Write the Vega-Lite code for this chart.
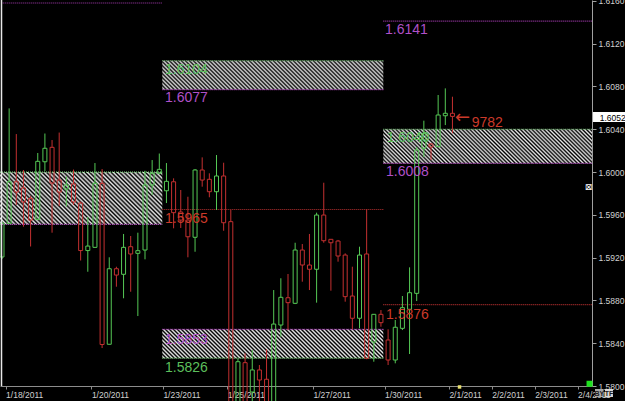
{
"$schema":"https://vega.github.io/schema/vega-lite/v6.json",
"width":592,"height":386,
"autosize":{"type":"none"},
"padding":{"left":0,"top":0,"right":33,"bottom":15},
"background":"#000000",
"config":{"view":{"stroke":null},"axis":{"grid":false},"scale":{"continuousPadding":0}},
"datasets":{
"zones":[
{"z":"A","k1":-0.2797,"k2":22.42,"p1":1.5951,"p2":1.6000},
{"z":"B","k1":22.42,"k2":53.33,"p1":1.6077,"p2":1.6104},
{"z":"C","k1":22.42,"k2":53.33,"p1":1.5826,"p2":1.5853},
{"z":"D","k1":53.33,"k2":82.517,"p1":1.6008,"p2":1.6040}
],
"levels":[
{"p":1.6158,"k1":0.1,"k2":22.42,"t":"m"},
{"p":1.6000,"k1":-0.2797,"k2":22.42,"t":"g"},
{"p":1.5951,"k1":-0.2797,"k2":22.42,"t":"m"},
{"p":1.6104,"k1":22.42,"k2":53.33,"t":"g"},
{"p":1.6077,"k1":22.42,"k2":53.33,"t":"m"},
{"p":1.5965,"k1":22.42,"k2":53.33,"t":"r"},
{"p":1.5853,"k1":22.42,"k2":53.33,"t":"m"},
{"p":1.5826,"k1":22.42,"k2":53.33,"t":"g"},
{"p":1.6141,"k1":53.33,"k2":82.517,"t":"m"},
{"p":1.6040,"k1":53.33,"k2":82.517,"t":"g"},
{"p":1.6008,"k1":53.33,"k2":82.517,"t":"m"},
{"p":1.5876,"k1":53.33,"k2":82.517,"t":"r"}
],
"candles":[
{"k":0,"d":"up","hi":1.59542,"top":1.59521,"bot":1.59206,"lo":1.59187},
{"k":1,"d":"up","hi":1.60595,"top":1.59909,"bot":1.59519,"lo":1.59514},
{"k":2,"d":"down","hi":1.60355,"top":1.59909,"bot":1.59813,"lo":1.59692},
{"k":3,"d":"down","hi":1.60019,"top":1.59851,"bot":1.59720,"lo":1.59489},
{"k":4,"d":"down","hi":1.59776,"top":1.59752,"bot":1.59551,"lo":1.59304},
{"k":5,"d":"up","hi":1.60178,"top":1.60100,"bot":1.59558,"lo":1.59551},
{"k":6,"d":"up","hi":1.60360,"top":1.60222,"bot":1.60096,"lo":1.60009},
{"k":7,"d":"down","hi":1.60299,"top":1.60231,"bot":1.59897,"lo":1.59433},
{"k":8,"d":"down","hi":1.60369,"top":1.59925,"bot":1.59813,"lo":1.59682},
{"k":9,"d":"up","hi":1.59958,"top":1.59879,"bot":1.59841,"lo":1.59678},
{"k":10,"d":"down","hi":1.60023,"top":1.59888,"bot":1.59720,"lo":1.59692},
{"k":11,"d":"down","hi":1.59724,"top":1.59710,"bot":1.59266,"lo":1.59173},
{"k":12,"d":"up","hi":1.59579,"top":1.59308,"bot":1.59266,"lo":1.59068},
{"k":13,"d":"up","hi":1.60084,"top":1.59894,"bot":1.59296,"lo":1.59290},
{"k":14,"d":"down","hi":1.60028,"top":1.59894,"bot":1.58388,"lo":1.58355},
{"k":15,"d":"up","hi":1.59203,"top":1.59096,"bot":1.58390,"lo":1.58388},
{"k":16,"d":"down","hi":1.59115,"top":1.59096,"bot":1.59037,"lo":1.58928},
{"k":17,"d":"up","hi":1.59421,"top":1.59296,"bot":1.59044,"lo":1.58820},
{"k":18,"d":"down","hi":1.59402,"top":1.59302,"bot":1.59234,"lo":1.58881},
{"k":19,"d":"up","hi":1.59433,"top":1.59265,"bot":1.59240,"lo":1.58654},
{"k":20,"d":"up","hi":1.60012,"top":1.59879,"bot":1.59271,"lo":1.59184},
{"k":21,"d":"up","hi":1.60112,"top":1.59988,"bot":1.59879,"lo":1.59785},
{"k":22,"d":"up","hi":1.60173,"top":1.60025,"bot":1.59988,"lo":1.59981},
{"k":23,"d":"up","hi":1.60084,"top":1.59913,"bot":1.59825,"lo":1.59710},
{"k":24,"d":"down","hi":1.59941,"top":1.59909,"bot":1.59620,"lo":1.59474},
{"k":25,"d":"down","hi":1.59832,"top":1.59626,"bot":1.59551,"lo":1.59477},
{"k":26,"d":"down","hi":1.59769,"top":1.59551,"bot":1.59395,"lo":1.59203},
{"k":27,"d":"up","hi":1.60028,"top":1.60019,"bot":1.59390,"lo":1.59255},
{"k":28,"d":"down","hi":1.60137,"top":1.60019,"bot":1.59925,"lo":1.59863},
{"k":29,"d":"down","hi":1.59988,"top":1.59932,"bot":1.59816,"lo":1.59764},
{"k":30,"d":"up","hi":1.60159,"top":1.59963,"bot":1.59816,"lo":1.59645},
{"k":31,"d":"down","hi":1.60087,"top":1.59963,"bot":1.59526,"lo":1.59451},
{"k":32,"d":"down","hi":1.59645,"top":1.59536,"bot":1.57822,"lo":1.57776},
{"k":33,"d":"up","hi":1.58257,"top":1.58227,"bot":1.57794,"lo":1.57757},
{"k":34,"d":"down","hi":1.58306,"top":1.58218,"bot":1.57832,"lo":1.57776},
{"k":35,"d":"up","hi":1.58336,"top":1.58150,"bot":1.57944,"lo":1.57850},
{"k":36,"d":"down","hi":1.58196,"top":1.58150,"bot":1.58056,"lo":1.57794},
{"k":37,"d":"down","hi":1.58343,"top":1.58063,"bot":1.57850,"lo":1.57776},
{"k":38,"d":"up","hi":1.58897,"top":1.58579,"bot":1.57850,"lo":1.57794},
{"k":39,"d":"up","hi":1.59007,"top":1.58829,"bot":1.58570,"lo":1.58461},
{"k":40,"d":"down","hi":1.59047,"top":1.58825,"bot":1.58779,"lo":1.58523},
{"k":41,"d":"up","hi":1.59339,"top":1.59271,"bot":1.58773,"lo":1.58766},
{"k":42,"d":"down","hi":1.59327,"top":1.59271,"bot":1.59131,"lo":1.58975},
{"k":43,"d":"down","hi":1.59421,"top":1.59131,"bot":1.59091,"lo":1.58897},
{"k":44,"d":"up","hi":1.59620,"top":1.59598,"bot":1.59091,"lo":1.58779},
{"k":45,"d":"down","hi":1.59900,"top":1.59598,"bot":1.59358,"lo":1.59339},
{"k":46,"d":"down","hi":1.59374,"top":1.59371,"bot":1.59339,"lo":1.58891},
{"k":47,"d":"down","hi":1.59365,"top":1.59355,"bot":1.59215,"lo":1.59162},
{"k":48,"d":"down","hi":1.59240,"top":1.59224,"bot":1.58835,"lo":1.58788},
{"k":49,"d":"down","hi":1.59115,"top":1.58841,"bot":1.58633,"lo":1.58530},
{"k":50,"d":"up","hi":1.59302,"top":1.59224,"bot":1.58633,"lo":1.58539},
{"k":51,"d":"down","hi":1.59651,"top":1.59234,"bot":1.58259,"lo":1.58250},
{"k":52,"d":"up","hi":1.58673,"top":1.58670,"bot":1.58411,"lo":1.58227},
{"k":53,"d":"down","hi":1.58710,"top":1.58670,"bot":1.58592,"lo":1.58554},
{"k":54,"d":"down","hi":1.58530,"top":1.58430,"bot":1.58243,"lo":1.58196},
{"k":55,"d":"up","hi":1.58617,"top":1.58549,"bot":1.58243,"lo":1.58212},
{"k":56,"d":"up","hi":1.58841,"top":1.58732,"bot":1.58539,"lo":1.58523},
{"k":57,"d":"up","hi":1.59109,"top":1.58872,"bot":1.58717,"lo":1.58299},
{"k":58,"d":"up","hi":1.60234,"top":1.60206,"bot":1.58866,"lo":1.58794},
{"k":59,"d":"up","hi":1.60480,"top":1.60362,"bot":1.60222,"lo":1.60140},
{"k":60,"d":"down","hi":1.60268,"top":1.60262,"bot":1.60234,"lo":1.60112},
{"k":61,"d":"up","hi":1.60720,"top":1.60533,"bot":1.60237,"lo":1.60234},
{"k":62,"d":"up","hi":1.60782,"top":1.60549,"bot":1.60526,"lo":1.60439},
{"k":63,"d":"down","hi":1.60704,"top":1.60549,"bot":1.60520,"lo":1.60362}
],
"labels":[
{"k":22.8,"p":1.60916,"t":"1.6104","c":"g"},
{"k":22.8,"p":1.60654,"t":"1.6077","c":"m"},
{"k":22.8,"p":1.58397,"t":"1.5853","c":"m"},
{"k":22.8,"p":1.58131,"t":"1.5826","c":"g"},
{"k":22.8,"p":1.59528,"t":"1.5965","c":"r"},
{"k":53.57,"p":1.61294,"t":"1.6141","c":"m"},
{"k":53.8,"p":1.60280,"t":"1.6040","c":"g"},
{"k":53.71,"p":1.59963,"t":"1.6008","c":"m"},
{"k":53.71,"p":1.58626,"t":"1.5876","c":"r"},
{"k":65.69,"p":1.60421,"t":"9782","c":"r"}
]
},
"layer":[
{"data":{"name":"zones"},"transform":[{"filter":"datum.z=='A'"}],
"mark":{"type":"rect","clip":true,"fill":{"gradient":"linear","x1":0,"y1":1,"x2":1.198,"y2":0.6132,"stops":[
{"offset":0,"color":"#000"},{"offset":0.01,"color":"#e8e8e8"},{"offset":0.02,"color":"#000"},{"offset":0.03,"color":"#e8e8e8"},{"offset":0.04,"color":"#000"},{"offset":0.05,"color":"#e8e8e8"},{"offset":0.06,"color":"#000"},{"offset":0.07,"color":"#e8e8e8"},{"offset":0.08,"color":"#000"},{"offset":0.09,"color":"#e8e8e8"},
{"offset":0.1,"color":"#000"},{"offset":0.11,"color":"#e8e8e8"},{"offset":0.12,"color":"#000"},{"offset":0.13,"color":"#e8e8e8"},{"offset":0.14,"color":"#000"},{"offset":0.15,"color":"#e8e8e8"},{"offset":0.16,"color":"#000"},{"offset":0.17,"color":"#e8e8e8"},{"offset":0.18,"color":"#000"},{"offset":0.19,"color":"#e8e8e8"},
{"offset":0.2,"color":"#000"},{"offset":0.21,"color":"#e8e8e8"},{"offset":0.22,"color":"#000"},{"offset":0.23,"color":"#e8e8e8"},{"offset":0.24,"color":"#000"},{"offset":0.25,"color":"#e8e8e8"},{"offset":0.26,"color":"#000"},{"offset":0.27,"color":"#e8e8e8"},{"offset":0.28,"color":"#000"},{"offset":0.29,"color":"#e8e8e8"},
{"offset":0.3,"color":"#000"},{"offset":0.31,"color":"#e8e8e8"},{"offset":0.32,"color":"#000"},{"offset":0.33,"color":"#e8e8e8"},{"offset":0.34,"color":"#000"},{"offset":0.35,"color":"#e8e8e8"},{"offset":0.36,"color":"#000"},{"offset":0.37,"color":"#e8e8e8"},{"offset":0.38,"color":"#000"},{"offset":0.39,"color":"#e8e8e8"},
{"offset":0.4,"color":"#000"},{"offset":0.41,"color":"#e8e8e8"},{"offset":0.42,"color":"#000"},{"offset":0.43,"color":"#e8e8e8"},{"offset":0.44,"color":"#000"},{"offset":0.45,"color":"#e8e8e8"},{"offset":0.46,"color":"#000"},{"offset":0.47,"color":"#e8e8e8"},{"offset":0.48,"color":"#000"},{"offset":0.49,"color":"#e8e8e8"},
{"offset":0.5,"color":"#000"},{"offset":0.51,"color":"#e8e8e8"},{"offset":0.52,"color":"#000"},{"offset":0.53,"color":"#e8e8e8"},{"offset":0.54,"color":"#000"},{"offset":0.55,"color":"#e8e8e8"},{"offset":0.56,"color":"#000"},{"offset":0.57,"color":"#e8e8e8"},{"offset":0.58,"color":"#000"},{"offset":0.59,"color":"#e8e8e8"},
{"offset":0.6,"color":"#000"},{"offset":0.61,"color":"#e8e8e8"},{"offset":0.62,"color":"#000"},{"offset":0.63,"color":"#e8e8e8"},{"offset":0.64,"color":"#000"},{"offset":0.65,"color":"#e8e8e8"},{"offset":0.66,"color":"#000"},{"offset":0.67,"color":"#e8e8e8"},{"offset":0.68,"color":"#000"},{"offset":0.69,"color":"#e8e8e8"},
{"offset":0.7,"color":"#000"},{"offset":0.71,"color":"#e8e8e8"},{"offset":0.72,"color":"#000"},{"offset":0.73,"color":"#e8e8e8"},{"offset":0.74,"color":"#000"},{"offset":0.75,"color":"#e8e8e8"},{"offset":0.76,"color":"#000"},{"offset":0.77,"color":"#e8e8e8"},{"offset":0.78,"color":"#000"},{"offset":0.79,"color":"#e8e8e8"},
{"offset":0.8,"color":"#000"},{"offset":0.81,"color":"#e8e8e8"},{"offset":0.82,"color":"#000"},{"offset":0.83,"color":"#e8e8e8"},{"offset":0.84,"color":"#000"},{"offset":0.85,"color":"#e8e8e8"},{"offset":0.86,"color":"#000"},{"offset":0.87,"color":"#e8e8e8"},{"offset":0.88,"color":"#000"},{"offset":0.89,"color":"#e8e8e8"},
{"offset":0.9,"color":"#000"},{"offset":0.91,"color":"#e8e8e8"},{"offset":0.92,"color":"#000"},{"offset":0.93,"color":"#e8e8e8"},{"offset":0.94,"color":"#000"},{"offset":0.95,"color":"#e8e8e8"},{"offset":0.96,"color":"#000"},{"offset":0.97,"color":"#e8e8e8"},{"offset":0.98,"color":"#000"},{"offset":0.99,"color":"#e8e8e8"},{"offset":1,"color":"#000"}]}},
"encoding":{"x":{"field":"k1","type":"quantitative","scale":{"domain":[-0.2797,82.517],"nice":false,"zero":false,"padding":0},"axis":{"title":null}},"x2":{"field":"k2"},"y":{"field":"p1","type":"quantitative","scale":{"domain":[1.58,1.61608],"nice":false,"zero":false,"padding":0},"axis":{"title":null}},"y2":{"field":"p2"}}},
{"data":{"name":"zones"},"transform":[{"filter":"datum.z=='B'||datum.z=='C'"}],
"mark":{"type":"rect","clip":true,"fill":{"gradient":"linear","x1":0,"y1":1,"x2":1.1118,"y2":0.8546,"stops":[
{"offset":0,"color":"#000"},{"offset":0.008,"color":"#e8e8e8"},{"offset":0.016,"color":"#000"},{"offset":0.024,"color":"#e8e8e8"},{"offset":0.032,"color":"#000"},{"offset":0.04,"color":"#e8e8e8"},{"offset":0.048,"color":"#000"},{"offset":0.056,"color":"#e8e8e8"},{"offset":0.064,"color":"#000"},{"offset":0.072,"color":"#e8e8e8"},
{"offset":0.08,"color":"#000"},{"offset":0.088,"color":"#e8e8e8"},{"offset":0.096,"color":"#000"},{"offset":0.104,"color":"#e8e8e8"},{"offset":0.112,"color":"#000"},{"offset":0.12,"color":"#e8e8e8"},{"offset":0.128,"color":"#000"},{"offset":0.136,"color":"#e8e8e8"},{"offset":0.144,"color":"#000"},{"offset":0.152,"color":"#e8e8e8"},
{"offset":0.16,"color":"#000"},{"offset":0.168,"color":"#e8e8e8"},{"offset":0.176,"color":"#000"},{"offset":0.184,"color":"#e8e8e8"},{"offset":0.192,"color":"#000"},{"offset":0.2,"color":"#e8e8e8"},{"offset":0.208,"color":"#000"},{"offset":0.216,"color":"#e8e8e8"},{"offset":0.224,"color":"#000"},{"offset":0.232,"color":"#e8e8e8"},
{"offset":0.24,"color":"#000"},{"offset":0.248,"color":"#e8e8e8"},{"offset":0.256,"color":"#000"},{"offset":0.264,"color":"#e8e8e8"},{"offset":0.272,"color":"#000"},{"offset":0.28,"color":"#e8e8e8"},{"offset":0.288,"color":"#000"},{"offset":0.296,"color":"#e8e8e8"},{"offset":0.304,"color":"#000"},{"offset":0.312,"color":"#e8e8e8"},
{"offset":0.32,"color":"#000"},{"offset":0.328,"color":"#e8e8e8"},{"offset":0.336,"color":"#000"},{"offset":0.344,"color":"#e8e8e8"},{"offset":0.352,"color":"#000"},{"offset":0.36,"color":"#e8e8e8"},{"offset":0.368,"color":"#000"},{"offset":0.376,"color":"#e8e8e8"},{"offset":0.384,"color":"#000"},{"offset":0.392,"color":"#e8e8e8"},
{"offset":0.4,"color":"#000"},{"offset":0.408,"color":"#e8e8e8"},{"offset":0.416,"color":"#000"},{"offset":0.424,"color":"#e8e8e8"},{"offset":0.432,"color":"#000"},{"offset":0.44,"color":"#e8e8e8"},{"offset":0.448,"color":"#000"},{"offset":0.456,"color":"#e8e8e8"},{"offset":0.464,"color":"#000"},{"offset":0.472,"color":"#e8e8e8"},
{"offset":0.48,"color":"#000"},{"offset":0.488,"color":"#e8e8e8"},{"offset":0.496,"color":"#000"},{"offset":0.504,"color":"#e8e8e8"},{"offset":0.512,"color":"#000"},{"offset":0.52,"color":"#e8e8e8"},{"offset":0.528,"color":"#000"},{"offset":0.536,"color":"#e8e8e8"},{"offset":0.544,"color":"#000"},{"offset":0.552,"color":"#e8e8e8"},
{"offset":0.56,"color":"#000"},{"offset":0.568,"color":"#e8e8e8"},{"offset":0.576,"color":"#000"},{"offset":0.584,"color":"#e8e8e8"},{"offset":0.592,"color":"#000"},{"offset":0.6,"color":"#e8e8e8"},{"offset":0.608,"color":"#000"},{"offset":0.616,"color":"#e8e8e8"},{"offset":0.624,"color":"#000"},{"offset":0.632,"color":"#e8e8e8"},
{"offset":0.64,"color":"#000"},{"offset":0.648,"color":"#e8e8e8"},{"offset":0.656,"color":"#000"},{"offset":0.664,"color":"#e8e8e8"},{"offset":0.672,"color":"#000"},{"offset":0.68,"color":"#e8e8e8"},{"offset":0.688,"color":"#000"},{"offset":0.696,"color":"#e8e8e8"},{"offset":0.704,"color":"#000"},{"offset":0.712,"color":"#e8e8e8"},
{"offset":0.72,"color":"#000"},{"offset":0.728,"color":"#e8e8e8"},{"offset":0.736,"color":"#000"},{"offset":0.744,"color":"#e8e8e8"},{"offset":0.752,"color":"#000"},{"offset":0.76,"color":"#e8e8e8"},{"offset":0.768,"color":"#000"},{"offset":0.776,"color":"#e8e8e8"},{"offset":0.784,"color":"#000"},{"offset":0.792,"color":"#e8e8e8"},
{"offset":0.8,"color":"#000"},{"offset":0.808,"color":"#e8e8e8"},{"offset":0.816,"color":"#000"},{"offset":0.824,"color":"#e8e8e8"},{"offset":0.832,"color":"#000"},{"offset":0.84,"color":"#e8e8e8"},{"offset":0.848,"color":"#000"},{"offset":0.856,"color":"#e8e8e8"},{"offset":0.864,"color":"#000"},{"offset":0.872,"color":"#e8e8e8"},
{"offset":0.88,"color":"#000"},{"offset":0.888,"color":"#e8e8e8"},{"offset":0.896,"color":"#000"},{"offset":0.904,"color":"#e8e8e8"},{"offset":0.912,"color":"#000"},{"offset":0.92,"color":"#e8e8e8"},{"offset":0.928,"color":"#000"},{"offset":0.936,"color":"#e8e8e8"},{"offset":0.944,"color":"#000"},{"offset":0.952,"color":"#e8e8e8"},
{"offset":0.96,"color":"#000"},{"offset":0.968,"color":"#e8e8e8"},{"offset":0.976,"color":"#000"},{"offset":0.984,"color":"#e8e8e8"},{"offset":0.992,"color":"#000"},{"offset":1,"color":"#e8e8e8"}]}},
"encoding":{"x":{"field":"k1","type":"quantitative","scale":{"domain":[-0.2797,82.517],"nice":false,"zero":false,"padding":0},"axis":{"title":null}},"x2":{"field":"k2"},"y":{"field":"p1","type":"quantitative","scale":{"domain":[1.58,1.61608],"nice":false,"zero":false,"padding":0},"axis":{"title":null}},"y2":{"field":"p2"}}},
{"data":{"name":"zones"},"transform":[{"filter":"datum.z=='D'"}],
"mark":{"type":"rect","clip":true,"fill":{"gradient":"linear","x1":0,"y1":1,"x2":1.1335,"y2":0.8142,"stops":[
{"offset":0,"color":"#000"},{"offset":0.008,"color":"#e8e8e8"},{"offset":0.016,"color":"#000"},{"offset":0.024,"color":"#e8e8e8"},{"offset":0.032,"color":"#000"},{"offset":0.04,"color":"#e8e8e8"},{"offset":0.048,"color":"#000"},{"offset":0.056,"color":"#e8e8e8"},{"offset":0.064,"color":"#000"},{"offset":0.072,"color":"#e8e8e8"},
{"offset":0.08,"color":"#000"},{"offset":0.088,"color":"#e8e8e8"},{"offset":0.096,"color":"#000"},{"offset":0.104,"color":"#e8e8e8"},{"offset":0.112,"color":"#000"},{"offset":0.12,"color":"#e8e8e8"},{"offset":0.128,"color":"#000"},{"offset":0.136,"color":"#e8e8e8"},{"offset":0.144,"color":"#000"},{"offset":0.152,"color":"#e8e8e8"},
{"offset":0.16,"color":"#000"},{"offset":0.168,"color":"#e8e8e8"},{"offset":0.176,"color":"#000"},{"offset":0.184,"color":"#e8e8e8"},{"offset":0.192,"color":"#000"},{"offset":0.2,"color":"#e8e8e8"},{"offset":0.208,"color":"#000"},{"offset":0.216,"color":"#e8e8e8"},{"offset":0.224,"color":"#000"},{"offset":0.232,"color":"#e8e8e8"},
{"offset":0.24,"color":"#000"},{"offset":0.248,"color":"#e8e8e8"},{"offset":0.256,"color":"#000"},{"offset":0.264,"color":"#e8e8e8"},{"offset":0.272,"color":"#000"},{"offset":0.28,"color":"#e8e8e8"},{"offset":0.288,"color":"#000"},{"offset":0.296,"color":"#e8e8e8"},{"offset":0.304,"color":"#000"},{"offset":0.312,"color":"#e8e8e8"},
{"offset":0.32,"color":"#000"},{"offset":0.328,"color":"#e8e8e8"},{"offset":0.336,"color":"#000"},{"offset":0.344,"color":"#e8e8e8"},{"offset":0.352,"color":"#000"},{"offset":0.36,"color":"#e8e8e8"},{"offset":0.368,"color":"#000"},{"offset":0.376,"color":"#e8e8e8"},{"offset":0.384,"color":"#000"},{"offset":0.392,"color":"#e8e8e8"},
{"offset":0.4,"color":"#000"},{"offset":0.408,"color":"#e8e8e8"},{"offset":0.416,"color":"#000"},{"offset":0.424,"color":"#e8e8e8"},{"offset":0.432,"color":"#000"},{"offset":0.44,"color":"#e8e8e8"},{"offset":0.448,"color":"#000"},{"offset":0.456,"color":"#e8e8e8"},{"offset":0.464,"color":"#000"},{"offset":0.472,"color":"#e8e8e8"},
{"offset":0.48,"color":"#000"},{"offset":0.488,"color":"#e8e8e8"},{"offset":0.496,"color":"#000"},{"offset":0.504,"color":"#e8e8e8"},{"offset":0.512,"color":"#000"},{"offset":0.52,"color":"#e8e8e8"},{"offset":0.528,"color":"#000"},{"offset":0.536,"color":"#e8e8e8"},{"offset":0.544,"color":"#000"},{"offset":0.552,"color":"#e8e8e8"},
{"offset":0.56,"color":"#000"},{"offset":0.568,"color":"#e8e8e8"},{"offset":0.576,"color":"#000"},{"offset":0.584,"color":"#e8e8e8"},{"offset":0.592,"color":"#000"},{"offset":0.6,"color":"#e8e8e8"},{"offset":0.608,"color":"#000"},{"offset":0.616,"color":"#e8e8e8"},{"offset":0.624,"color":"#000"},{"offset":0.632,"color":"#e8e8e8"},
{"offset":0.64,"color":"#000"},{"offset":0.648,"color":"#e8e8e8"},{"offset":0.656,"color":"#000"},{"offset":0.664,"color":"#e8e8e8"},{"offset":0.672,"color":"#000"},{"offset":0.68,"color":"#e8e8e8"},{"offset":0.688,"color":"#000"},{"offset":0.696,"color":"#e8e8e8"},{"offset":0.704,"color":"#000"},{"offset":0.712,"color":"#e8e8e8"},
{"offset":0.72,"color":"#000"},{"offset":0.728,"color":"#e8e8e8"},{"offset":0.736,"color":"#000"},{"offset":0.744,"color":"#e8e8e8"},{"offset":0.752,"color":"#000"},{"offset":0.76,"color":"#e8e8e8"},{"offset":0.768,"color":"#000"},{"offset":0.776,"color":"#e8e8e8"},{"offset":0.784,"color":"#000"},{"offset":0.792,"color":"#e8e8e8"},
{"offset":0.8,"color":"#000"},{"offset":0.808,"color":"#e8e8e8"},{"offset":0.816,"color":"#000"},{"offset":0.824,"color":"#e8e8e8"},{"offset":0.832,"color":"#000"},{"offset":0.84,"color":"#e8e8e8"},{"offset":0.848,"color":"#000"},{"offset":0.856,"color":"#e8e8e8"},{"offset":0.864,"color":"#000"},{"offset":0.872,"color":"#e8e8e8"},
{"offset":0.88,"color":"#000"},{"offset":0.888,"color":"#e8e8e8"},{"offset":0.896,"color":"#000"},{"offset":0.904,"color":"#e8e8e8"},{"offset":0.912,"color":"#000"},{"offset":0.92,"color":"#e8e8e8"},{"offset":0.928,"color":"#000"},{"offset":0.936,"color":"#e8e8e8"},{"offset":0.944,"color":"#000"},{"offset":0.952,"color":"#e8e8e8"},
{"offset":0.96,"color":"#000"},{"offset":0.968,"color":"#e8e8e8"},{"offset":0.976,"color":"#000"},{"offset":0.984,"color":"#e8e8e8"},{"offset":0.992,"color":"#000"},{"offset":1,"color":"#e8e8e8"}]}},
"encoding":{"x":{"field":"k1","type":"quantitative","scale":{"domain":[-0.2797,82.517],"nice":false,"zero":false,"padding":0},"axis":{"title":null}},"x2":{"field":"k2"},"y":{"field":"p1","type":"quantitative","scale":{"domain":[1.58,1.61608],"nice":false,"zero":false,"padding":0},"axis":{"title":null}},"y2":{"field":"p2"}}},
{"data":{"name":"levels"},
"mark":{"type":"rule","strokeDash":[1,1],"strokeWidth":1.2,"clip":true},
"encoding":{"x":{"field":"k1","type":"quantitative","scale":{"domain":[-0.2797,82.517],"nice":false,"zero":false,"padding":0},"axis":{"title":null}},"x2":{"field":"k2"},"y":{"field":"p","type":"quantitative","scale":{"domain":[1.58,1.61608],"nice":false,"zero":false,"padding":0},"axis":{"title":null}},
"stroke":{"field":"t","type":"nominal","scale":{"domain":["up","down","g","m","r"],"range":["#55c855","#c43030","#7ad07a","#a83cb4","#b83030"]},"legend":null}}},
{"data":{"name":"candles"},
"mark":{"type":"rule","strokeWidth":1},
"encoding":{"x":{"field":"k","type":"quantitative","scale":{"domain":[-0.2797,82.517],"nice":false,"zero":false,"padding":0},
"axis":{"title":null,"orient":"bottom","values":[0.5,12.5,22.5,31.5,43.5,53.5,62.5,68.5,74.5,80.5],
"labelExpr":"datum.value==0.5?'1/18/2011':datum.value==12.5?'1/20/2011':datum.value==22.5?'1/23/2011':datum.value==31.5?'1/25/2011':datum.value==43.5?'1/27/2011':datum.value==53.5?'1/30/2011':datum.value==62.5?'2/1/2011':datum.value==68.5?'2/2/2011':datum.value==74.5?'2/3/2011':'2/4/2011'",
"labelAlign":"left","labelBaseline":"top","labelPadding":1,"labelFont":"Liberation Sans Narrow, Liberation Sans","labelFontSize":8.5,"labelColor":"#d0d0d0","domainColor":"#8c8c8c","tickColor":"#8c8c8c","tickSize":3,"labelOverlap":false,"labelFlush":false,"labelBound":false,"grid":false}},
"y":{"field":"hi","type":"quantitative","scale":{"domain":[1.58,1.61608],"nice":false,"zero":false,"padding":0},
"axis":{"title":null,"orient":"right","values":[1.58,1.584,1.588,1.592,1.596,1.6,1.604,1.608,1.612,1.616],"format":".4f","labelFont":"Liberation Sans Narrow, Liberation Sans","labelFontSize":8.5,"labelColor":"#d0d0d0","domainColor":"#a0a0a0","tickColor":"#a0a0a0","tickSize":4,"labelPadding":2,"labelOverlap":false,"labelFlush":false,"labelBound":false,"grid":false}},
"y2":{"field":"top"},
"stroke":{"field":"d","type":"nominal","scale":{"domain":["up","down","g","m","r"],"range":["#55c855","#c43030","#7ad07a","#a83cb4","#b83030"]},"legend":null}}},
{"data":{"name":"candles"},
"mark":{"type":"rule","strokeWidth":1},
"encoding":{"x":{"field":"k","type":"quantitative","scale":{"domain":[-0.2797,82.517],"nice":false,"zero":false,"padding":0},"axis":{"title":null}},
"y":{"field":"bot","type":"quantitative","scale":{"domain":[1.58,1.61608],"nice":false,"zero":false,"padding":0},"axis":{"title":null}},"y2":{"field":"lo"},
"stroke":{"field":"d","type":"nominal","scale":{"domain":["up","down","g","m","r"],"range":["#55c855","#c43030","#7ad07a","#a83cb4","#b83030"]},"legend":null}}},
{"data":{"name":"candles"},
"mark":{"type":"bar","width":4,"fill":"transparent","strokeWidth":1},
"encoding":{"x":{"field":"k","type":"quantitative","scale":{"domain":[-0.2797,82.517],"nice":false,"zero":false,"padding":0},"axis":{"title":null}},
"y":{"field":"top","type":"quantitative","scale":{"domain":[1.58,1.61608],"nice":false,"zero":false,"padding":0},"axis":{"title":null}},"y2":{"field":"bot"},
"stroke":{"field":"d","type":"nominal","scale":{"domain":["up","down","g","m","r"],"range":["#55c855","#c43030","#7ad07a","#a83cb4","#b83030"]},"legend":null}}},
{"data":{"name":"labels"},
"mark":{"type":"text","align":"left","baseline":"alphabetic","font":"Liberation Sans","fontSize":14},
"encoding":{"x":{"field":"k","type":"quantitative","scale":{"domain":[-0.2797,82.517],"nice":false,"zero":false,"padding":0},"axis":{"title":null}},
"y":{"field":"p","type":"quantitative","scale":{"domain":[1.58,1.61608],"nice":false,"zero":false,"padding":0},"axis":{"title":null}},
"text":{"field":"t"},
"fill":{"field":"c","type":"nominal","scale":{"domain":["g","m","r"],"range":["#5cbf5c","#b050c8","#cc3a2a"]},"legend":null}}},
{"data":{"values":[{"k":63.36,"p":1.60458,"t":"←"}]},
"mark":{"type":"text","align":"left","baseline":"alphabetic","font":"DejaVu Sans","fontSize":18,"fill":"#cc3a2a"},
"encoding":{"x":{"field":"k","type":"quantitative","scale":{"domain":[-0.2797,82.517],"nice":false,"zero":false,"padding":0},"axis":{"title":null}},
"y":{"field":"p","type":"quantitative","scale":{"domain":[1.58,1.61608],"nice":false,"zero":false,"padding":0},"axis":{"title":null}},"text":{"field":"t"}}},
{"data":{"values":[{"k":-0.07,"p1":1.58,"p2":1.61608}]},
"mark":{"type":"rule","stroke":"#e8e8e8","strokeWidth":1.5},
"encoding":{"x":{"field":"k","type":"quantitative","scale":{"domain":[-0.2797,82.517],"nice":false,"zero":false,"padding":0},"axis":{"title":null}},
"y":{"field":"p1","type":"quantitative","scale":{"domain":[1.58,1.61608],"nice":false,"zero":false,"padding":0},"axis":{"title":null}},"y2":{"field":"p2"}}},
{"data":{"values":[{"k1":82.66,"k2":87.3,"p1":1.60467,"p2":1.60561}]},
"mark":{"type":"rect","fill":"#ffffff","clip":false},
"encoding":{"x":{"field":"k1","type":"quantitative","scale":{"domain":[-0.2797,82.517],"nice":false,"zero":false,"padding":0},"axis":{"title":null}},"x2":{"field":"k2"},
"y":{"field":"p1","type":"quantitative","scale":{"domain":[1.58,1.61608],"nice":false,"zero":false,"padding":0},"axis":{"title":null}},"y2":{"field":"p2"}}},
{"data":{"values":[{"k1":82.94,"k2":84.13,"p1":1.57897,"p2":1.57972}]},
"mark":{"type":"rect","fill":"#a8a8a8","clip":false},
"encoding":{"x":{"field":"k1","type":"quantitative","scale":{"domain":[-0.2797,82.517],"nice":false,"zero":false,"padding":0},"axis":{"title":null}},"x2":{"field":"k2"},
"y":{"field":"p1","type":"quantitative","scale":{"domain":[1.58,1.61608],"nice":false,"zero":false,"padding":0},"axis":{"title":null}},"y2":{"field":"p2"}}},
{"data":{"values":[{"k1":84.34,"k2":85.45,"p1":1.57897,"p2":1.57972}]},
"mark":{"type":"rect","fill":"#d8d8d8","clip":false},
"encoding":{"x":{"field":"k1","type":"quantitative","scale":{"domain":[-0.2797,82.517],"nice":false,"zero":false,"padding":0},"axis":{"title":null}},"x2":{"field":"k2"},
"y":{"field":"p1","type":"quantitative","scale":{"domain":[1.58,1.61608],"nice":false,"zero":false,"padding":0},"axis":{"title":null}},"y2":{"field":"p2"}}},
{"data":{"values":[{"k":83.6,"p":1.60481,"t":"1.6052"}]},
"mark":{"type":"text","align":"left","baseline":"alphabetic","font":"Liberation Sans Narrow, Liberation Sans","fontSize":8.5,"fill":"#000000","clip":false},
"encoding":{"x":{"field":"k","type":"quantitative","scale":{"domain":[-0.2797,82.517],"nice":false,"zero":false,"padding":0},"axis":{"title":null}},
"y":{"field":"p","type":"quantitative","scale":{"domain":[1.58,1.61608],"nice":false,"zero":false,"padding":0},"axis":{"title":null}},"text":{"field":"t"}}},
{"data":{"values":[{"k":83.54,"p":1.57907,"t":"BY"},{"k":84.9,"p":1.57907,"t":"TF"}]},
"mark":{"type":"text","align":"center","baseline":"alphabetic","font":"Liberation Sans","fontSize":7,"fontWeight":"bold","fill":"#202020","clip":false},
"encoding":{"x":{"field":"k","type":"quantitative","scale":{"domain":[-0.2797,82.517],"nice":false,"zero":false,"padding":0},"axis":{"title":null}},
"y":{"field":"p","type":"quantitative","scale":{"domain":[1.58,1.61608],"nice":false,"zero":false,"padding":0},"axis":{"title":null}},"text":{"field":"t"}}},
{"data":{"values":[{"k":82.03,"p":1.5986,"t":"⊠"}]},
"mark":{"type":"text","align":"center","baseline":"middle","font":"DejaVu Sans","fontSize":9,"fill":"#ffffff","clip":false},
"encoding":{"x":{"field":"k","type":"quantitative","scale":{"domain":[-0.2797,82.517],"nice":false,"zero":false,"padding":0},"axis":{"title":null}},
"y":{"field":"p","type":"quantitative","scale":{"domain":[1.58,1.61608],"nice":false,"zero":false,"padding":0},"axis":{"title":null}},"text":{"field":"t"}}},
{"data":{"values":[{"k":82.17,"p":1.58021}]},
"mark":{"type":"point","shape":"square","size":36,"filled":true,"fill":"#1ee01e","opacity":1,"clip":false},
"encoding":{"x":{"field":"k","type":"quantitative","scale":{"domain":[-0.2797,82.517],"nice":false,"zero":false,"padding":0},"axis":{"title":null}},
"y":{"field":"p","type":"quantitative","scale":{"domain":[1.58,1.61608],"nice":false,"zero":false,"padding":0},"axis":{"title":null}}}},
{"data":{"values":[{"k":63.99,"p":1.57991}]},
"mark":{"type":"point","shape":"square","size":12,"filled":true,"fill":"#e8e070","opacity":1,"clip":false},
"encoding":{"x":{"field":"k","type":"quantitative","scale":{"domain":[-0.2797,82.517],"nice":false,"zero":false,"padding":0},"axis":{"title":null}},
"y":{"field":"p","type":"quantitative","scale":{"domain":[1.58,1.61608],"nice":false,"zero":false,"padding":0},"axis":{"title":null}}}}
]
}
